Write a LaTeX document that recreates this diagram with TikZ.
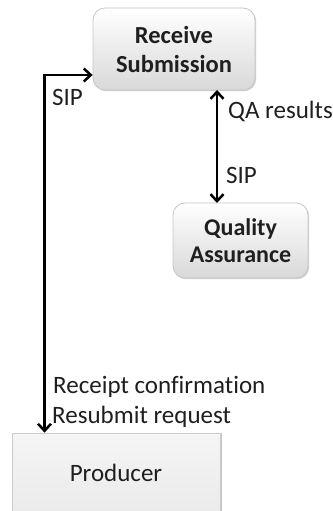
\documentclass[tikz,border=0pt]{standalone}
\usepackage{fontspec}
\setmainfont{Carlito}[Ligatures=NoCommon]
\usetikzlibrary{arrows.meta,shadows}
\begin{document}
\begin{tikzpicture}[x=1pt,y=-1pt,
  txt/.style={font=\fontsize{25}{29}\selectfont, text=black!88, inner sep=0pt},
  boxr/.style={draw=gray!45, line width=0.8pt, rounded corners=12pt,
    top color=white, bottom color=gray!30,
    drop shadow={shadow xshift=1.2pt, shadow yshift=-1.2pt, opacity=0.35, fill=gray},
    font=\bfseries\fontsize{24.5}{29}\selectfont, align=center, text=black!88, inner sep=0pt},
  boxp/.style={draw=gray!40, line width=0.8pt,
    top color=gray!8, bottom color=gray!18,
    drop shadow={shadow xshift=1.8pt, shadow yshift=0pt, opacity=0.45, fill=gray},
    font=\fontsize{25}{29}\selectfont, text=black!88, inner sep=0pt},
  conn/.style={line width=2.5pt, {Straight Barb[length=7pt,width=13pt]}-{Straight Barb[length=7pt,width=13pt]}}
  ]
\useasboundingbox (0,0) rectangle (332,511);
\fill[white] (0,0) rectangle (332,511);
\begin{scope}
\clip (0,0) rectangle (332,511);
\node[boxr, minimum width=162pt, minimum height=82pt] (rs) at (174,49) {Receive\\Submission};
\node[boxr, minimum width=135pt, minimum height=75pt, font=\bfseries\fontsize{24}{26.5}\selectfont] (qa) at (240.5,240.5) {Quality\\Assurance};
\node[boxp, minimum width=208pt, minimum height=100pt] (pr) at (116,483) {};
\node[txt] (prt) at (116,473) {Producer};

\coordinate (corner) at (44.5,75);
\coordinate (pt) at (corner |- pr.north);
\coordinate (rsin) at (rs.west |- corner);
\draw[conn] (pt) -- (corner) -- (rsin);

\coordinate (rsb) at (217,90);
\coordinate (qat) at (217,203);
\draw[conn] (rsb) -- (qat);

\node[txt, anchor=base west] (sipl) at (52,105) {SIP};
\node[txt, anchor=base west] (qar) at (228,118) {QA results};
\node[txt, anchor=base west] (sipm) at (226,183) {SIP};
\node[txt, anchor=base west] (rc) at (53,393) {Receipt confirmation};
\node[txt, anchor=base west] (rr) at (52,423) {Resubmit request};
\end{scope}
\end{tikzpicture}
\end{document}
